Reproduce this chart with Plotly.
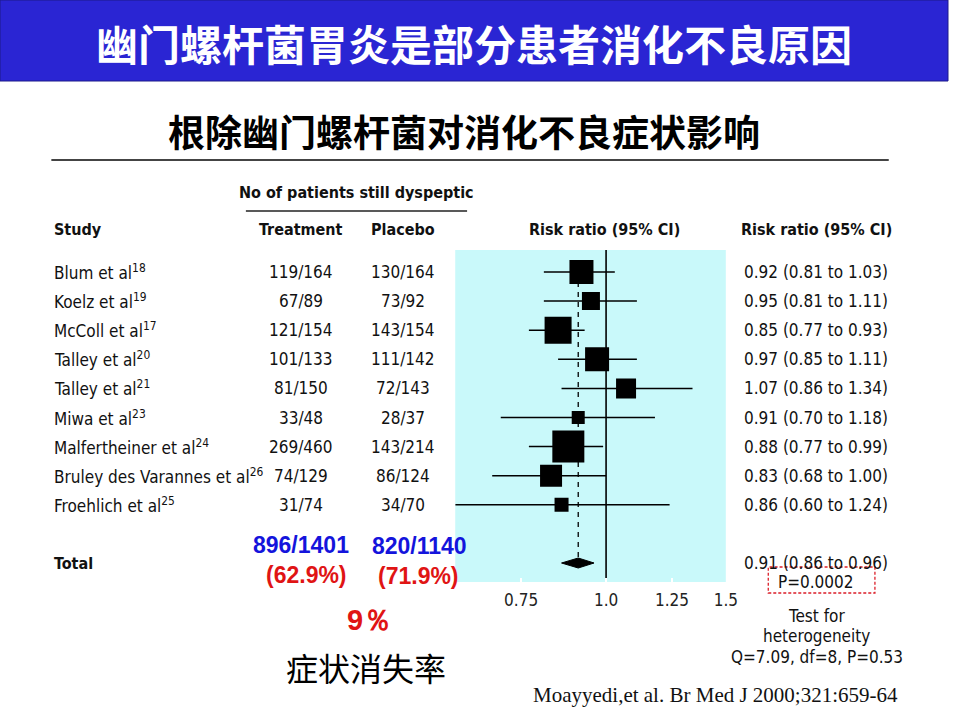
import math
import plotly.graph_objects as go

# ---------------- data ----------------
study_names = ["Blum et al", "Koelz et al", "McColl et al", "Talley et al", "Talley et al",
               "Miwa et al", "Malfertheiner et al", "Bruley des Varannes et al", "Froehlich et al"]
study_refs = ["18", "19", "17", "20", "21", "23", "24", "26", "25"]
treatment = ["119/164", "67/89", "121/154", "101/133", "81/150", "33/48", "269/460", "74/129", "31/74"]
placebo = ["130/164", "73/92", "143/154", "111/142", "72/143", "28/37", "143/214", "86/124", "34/70"]
rr = [0.92, 0.95, 0.85, 0.97, 1.07, 0.91, 0.88, 0.83, 0.86]
rr_lo = [0.81, 0.81, 0.77, 0.85, 0.86, 0.70, 0.77, 0.68, 0.60]
rr_hi = [1.03, 1.11, 0.93, 1.11, 1.34, 1.18, 0.99, 1.00, 1.24]
pooled = 0.91
pooled_lo = 0.86
pooled_hi = 0.96
total_treat = "896/1401"
total_plac = "820/1140"
pct_treat = "(62.9%)"
pct_plac = "(71.9%)"
reduction = "9％"
tick_vals = [0.75, 1.0, 1.25, 1.5]
tick_text = ["0.75", "1.0", "1.25", "1.5"]

# ---------------- styles ----------------
W, H = 960, 720
NARROW = "Liberation Sans Narrow, DejaVu Sans Condensed, Arial Narrow, sans-serif"
CJK = "Noto Sans CJK SC, sans-serif"
box_sizes = [24, 18, 27, 24, 20, 13, 32, 22, 14]
ROW_PX0, ROW_STEP = 272, 29.1
PANEL_TOP, PANEL_BOT = 250, 582
PANEL_L, PANEL_R = 461, 735
total_idx = len(rr) + 1


def px(x):
    return x / W


def py(y):
    return 1 - y / H


rows = list(range(len(rr)))
fig = go.Figure()

# null line and pooled dashed line
y_top = (PANEL_TOP - ROW_PX0) / ROW_STEP
y_bot = (PANEL_BOT - ROW_PX0) / ROW_STEP
fig.add_trace(go.Scatter(x=[1.0, 1.0], y=[y_top, y_bot], mode="lines",
                         line=dict(color="black", width=1.6), hoverinfo="skip", showlegend=False))
fig.add_trace(go.Scatter(x=[pooled, pooled], y=[0, total_idx - 0.17], mode="lines",
                         line=dict(color="black", width=1.3, dash="5px,5px"), hoverinfo="skip",
                         showlegend=False))

# study estimates with confidence intervals
fig.add_trace(go.Scatter(
    x=rr, y=rows, mode="markers",
    marker=dict(symbol="square", size=box_sizes, color="black", opacity=1, line=dict(width=0)),
    error_x=dict(type="data", symmetric=False,
                 array=[h - r for h, r in zip(rr_hi, rr)],
                 arrayminus=[r - l for r, l in zip(rr, rr_lo)],
                 color="black", thickness=1.5, width=0),
    showlegend=False, hoverinfo="skip"))

# pooled diamond
dh = 5 / ROW_STEP
fig.add_trace(go.Scatter(
    x=[pooled_lo, pooled, pooled_hi, pooled, pooled_lo],
    y=[total_idx, total_idx - dh, total_idx, total_idx + dh, total_idx],
    mode="lines", fill="toself", fillcolor="black", line=dict(color="black", width=1),
    showlegend=False, hoverinfo="skip"))

annotations = []


def txt(text, x, y, size=17, color="#111", family=NARROW, anchor="center", yref="paper", bold=False):
    annotations.append(dict(
        text=text, x=px(x), y=(py(y) if yref == "paper" else y), xref="paper", yref=yref,
        xanchor=anchor, yanchor="middle", showarrow=False,
        font=dict(size=size, color=color, family=family, weight=700 if bold else 400)))


# titles
txt("幽门螺杆菌胃炎是部分患者消化不良原因", 480, 42, size=42, color="white", family=CJK, bold=True)
txt("根除幽门螺杆菌对消化不良症状影响", 470, 131, size=37, color="black", family=CJK, bold=True)

# headers
txt("No of patients still dyspeptic", 361, 193, size=16, bold=True)
txt("Study", 53, 229, size=16, anchor="left", bold=True)
txt("Treatment", 305, 229, size=16, bold=True)
txt("Placebo", 408, 229, size=16, bold=True)
txt("Risk ratio (95% CI)", 612, 229, size=16, bold=True)
txt("Risk ratio (95% CI)", 827, 229, size=16, bold=True)

# study rows
for i in rows:
    txt(f"{study_names[i]}<sup>{study_refs[i]}</sup>", 53, i, anchor="left", yref="y")
    txt(treatment[i], 305, i, yref="y")
    txt(placebo[i], 408, i, yref="y")
    txt(f"{rr[i]:.2f} ({rr_lo[i]:.2f} to {rr_hi[i]:.2f})", 826, i, yref="y")

# total row
txt("Total", 53, total_idx, anchor="left", yref="y", size=16, bold=True)
txt(f"{pooled:.2f} ({pooled_lo:.2f} to {pooled_hi:.2f})", 826, total_idx, yref="y")
txt("P=0.0002", 826, 582)
txt("Test for", 827, 616)
txt("heterogeneity", 827, 636)
txt("Q=7.09, df=8, P=0.53", 827, 657)

# coloured totals
BLUE, RED = "#1414DC", "#E01414"
ARIAL = "Liberation Sans, Arial, sans-serif"
txt(total_treat, 305, 545, size=23, color=BLUE, family=ARIAL, bold=True)
txt(total_plac, 425, 546, size=23, color=BLUE, family=ARIAL, bold=True)
txt(pct_treat, 310, 575, size=23, color=RED, family=ARIAL, bold=True)
txt(pct_plac, 424, 576, size=23, color=RED, family=ARIAL, bold=True)
txt(reduction, 374, 620, size=29, color=RED, family=ARIAL, bold=True)
txt("症状消失率", 371, 667, size=32, color="black", family=CJK)

# citation
txt("Moayyedi,et al. Br Med J 2000;321:659-64", 725, 695, size=21, color="#111",
    family="Liberation Serif, Times New Roman, serif")

shapes = [
    dict(type="rect", xref="paper", yref="paper", x0=0, x1=1, y0=py(81), y1=1,
         fillcolor="#2A25D3", line=dict(color="#1C1A8A", width=1), layer="below"),
    dict(type="line", xref="paper", yref="paper", x0=px(52), x1=px(900), y0=py(160), y1=py(160),
         line=dict(color="#444", width=2)),
    dict(type="line", xref="paper", yref="paper", x0=px(249), x1=px(473), y0=py(211), y1=py(211),
         line=dict(color="#222", width=1.5)),
    dict(type="rect", xref="paper", yref="paper", x0=px(778), x1=px(886), y0=py(593), y1=py(567),
         line=dict(color="#DC1E28", width=1.3, dash="3px,2px"), fillcolor="rgba(0,0,0,0)"),
]

fig.update_layout(
    width=W, height=H, margin=dict(l=0, r=0, t=0, b=0), autosize=False,
    paper_bgcolor="white", plot_bgcolor="#C9F9FA",
    showlegend=False, annotations=annotations, shapes=shapes,
    xaxis=dict(type="log", domain=[px(PANEL_L), px(PANEL_R)],
               range=[math.log10(0.6), math.log10(1.5)],
               tickvals=tick_vals, ticktext=tick_text, ticks="inside", ticklen=4, tickcolor="white",
               tickwidth=2, showgrid=False, zeroline=False, showline=False,
               tickfont=dict(size=17, color="#222", family=NARROW), ticklabelstandoff=6),
    yaxis=dict(domain=[py(PANEL_BOT), py(PANEL_TOP)], range=[y_bot, y_top], visible=False,
               showgrid=False, zeroline=False),
)

fig.write_html("out.html", config={"responsive": False, "displayModeBar": False})
